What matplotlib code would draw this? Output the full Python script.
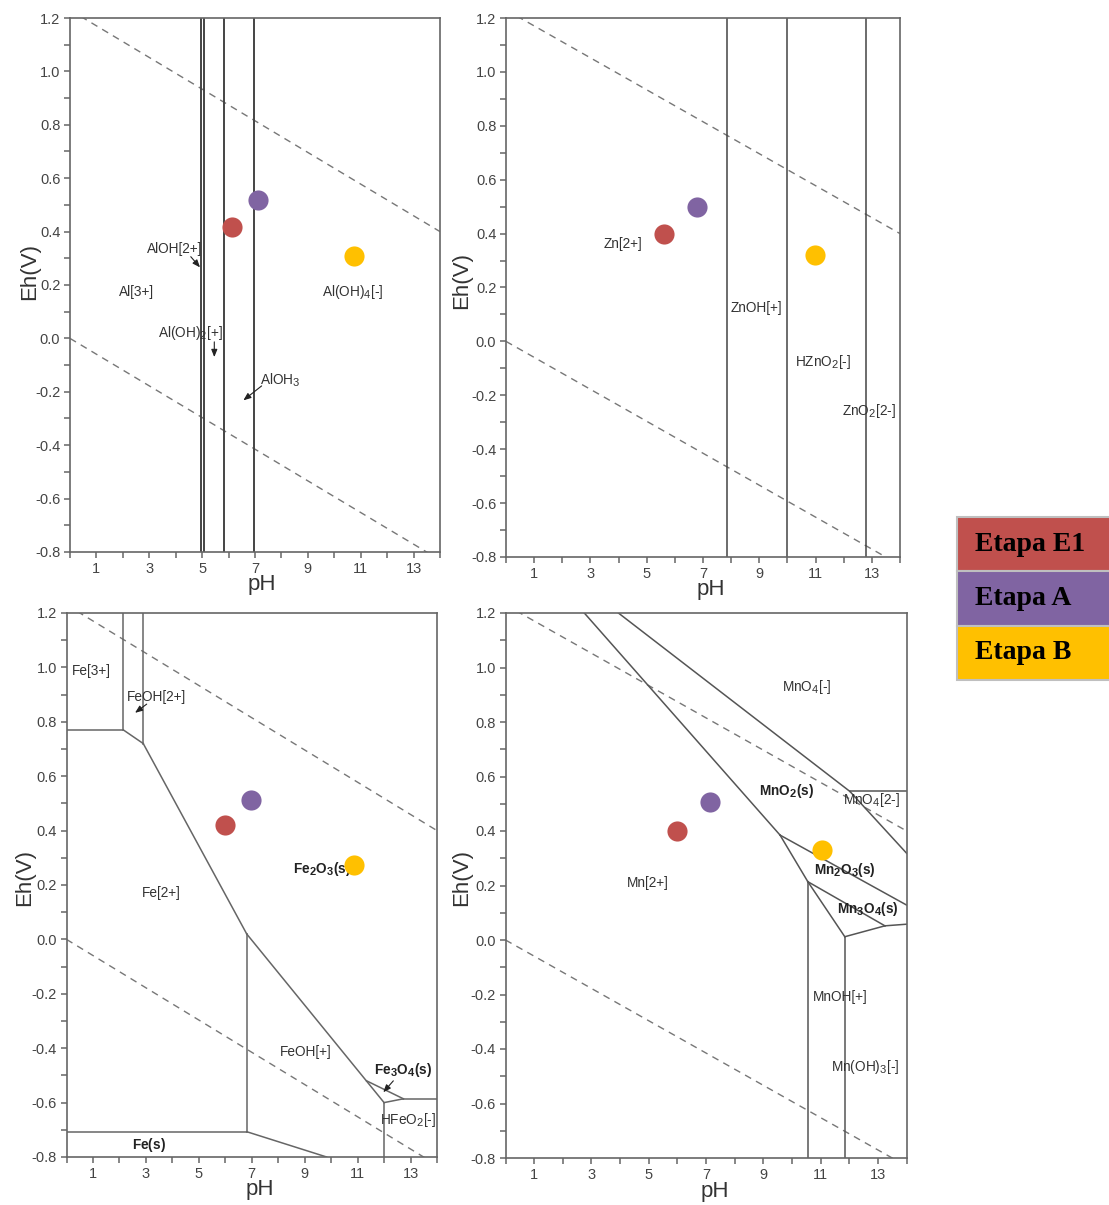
import matplotlib
matplotlib.use("Agg")
import matplotlib.pyplot as plt
import matplotlib._mathtext as mathtext_internals
from matplotlib.ticker import MultipleLocator, FixedLocator

plt.rcParams['font.family'] = ['Liberation Sans', 'DejaVu Sans']
plt.rcParams['mathtext.fontset'] = 'custom'
plt.rcParams['mathtext.rm'] = 'Liberation Sans'
plt.rcParams['mathtext.bf'] = 'Liberation Sans:bold'
plt.rcParams['mathtext.default'] = 'regular'
# subscripts in the original are only slightly smaller than the text
mathtext_internals.SHRINK_FACTOR = 0.82

# --- data -------------------------------------------------------------
stages = ['Etapa E1', 'Etapa A', 'Etapa B']
stage_colors = ['#C0504D', '#8064A2', '#FFC000']

# water stability lines (pH, Eh)
water_ph = [0, 14]
o2_eh = [1.23, 0.40]
h2_eh = [0.0, -0.83]

# Al
al_bounds = [4.95, 5.06, 5.83, 6.96]
al_ph = [6.14, 7.13, 10.73]
al_eh = [0.416, 0.52, 0.309]

# Zn
zn_bounds = [7.84, 9.97, 12.78]
zn_ph = [5.63, 6.8, 10.98]
zn_eh = [0.399, 0.50, 0.322]

# Fe  (segments: pH0, Eh0, pH1, Eh1)
fe_segs = [
    (0, 0.77, 2.15, 0.77),
    (2.15, 0.77, 2.15, 1.2),
    (2.90, 0.72, 2.90, 1.2),
    (2.15, 0.77, 2.90, 0.72),
    (2.90, 0.72, 6.81, 0.02),
    (6.81, 0.02, 12.0, -0.60),
    (6.81, 0.02, 6.81, -0.707),
    (0, -0.707, 6.81, -0.707),
    (6.81, -0.707, 9.83, -0.80),
    (11.34, -0.52, 12.73, -0.586),
    (12.0, -0.60, 12.73, -0.586),
    (12.73, -0.586, 14, -0.586),
    (12.0, -0.60, 12.0, -0.80),
]
fe_ph = [6.0, 6.98, 10.85]
fe_eh = [0.42, 0.511, 0.275]

# Mn
mn_segs = [
    (2.75, 1.2, 9.58, 0.385),
    (9.58, 0.385, 10.55, 0.214),
    (3.94, 1.2, 12.02, 0.545),
    (12.02, 0.545, 14, 0.318),
    (12.02, 0.545, 14, 0.545),
    (9.58, 0.385, 14, 0.128),
    (10.55, 0.214, 13.24, 0.052),
    (10.55, 0.214, 11.84, 0.012),
    (11.84, 0.012, 13.24, 0.052),
    (13.24, 0.052, 14, 0.058),
    (10.55, 0.214, 10.55, -0.80),
    (11.84, 0.012, 11.84, -0.80),
]
mn_ph = [5.97, 7.15, 11.05]
mn_eh = [0.40, 0.505, 0.33]

# --- figure -----------------------------------------------------------
W, H = 1109, 1205
fig = plt.figure(figsize=(W / 100, H / 100), dpi=100)


def px_axes(left, top, right, bottom):
    return fig.add_axes([left / W, 1 - bottom / H, (right - left) / W, (bottom - top) / H])


def style(ax):
    ax.set_xlim(0, 14)
    ax.set_ylim(-0.8, 1.2)
    ax.xaxis.set_major_locator(FixedLocator([1, 3, 5, 7, 9, 11, 13]))
    ax.xaxis.set_minor_locator(MultipleLocator(1))
    ax.yaxis.set_major_locator(MultipleLocator(0.2))
    ax.yaxis.set_minor_locator(MultipleLocator(0.1))
    ax.yaxis.set_major_formatter(plt.FuncFormatter(lambda v, p: '%.1f' % v))
    ax.tick_params(which='both', direction='out', length=4, width=1.1,
                   color='#666666', labelcolor='#444444', labelsize=10.5, pad=3)
    for s in ax.spines.values():
        s.set_color('#666666')
        s.set_linewidth(1.2)
    ax.plot(water_ph, o2_eh, ls=(0, (5, 4)), color='#777777', lw=1.0)
    ax.plot(water_ph, h2_eh, ls=(0, (5, 4)), color='#777777', lw=1.0)


def dots(ax, ph, eh):
    for x, y, c in zip(ph, eh, stage_colors):
        ax.plot(x, y, 'o', ms=14.5, color=c, mec='none', zorder=5)


def arrow(ax, start, end):
    ax.annotate('', xy=end, xytext=start,
                arrowprops=dict(arrowstyle='-|>,head_length=0.45,head_width=0.18',
                                color='#222222', lw=0.8, shrinkA=0, shrinkB=0))


lab = dict(fontsize=9.8, color='#333333', ha='center', va='center')
labb = dict(fontsize=9.8, color='#222222', ha='center', va='center')

# Al
ax1 = px_axes(70, 18, 440, 552)
style(ax1)
for x in al_bounds:
    ax1.axvline(x, color='#444444', lw=1.4)
ax1.text(3.97, 0.334, 'AlOH[2+]', **lab)
arrow(ax1, (4.57, 0.306), (4.92, 0.266))
ax1.text(2.52, 0.173, 'Al[3+]', **lab)
ax1.text(4.54, 0.02, r'Al(OH)$_2$[+]', **lab)
arrow(ax1, (5.46, -0.013), (5.46, -0.07))
ax1.text(7.95, -0.156, r'AlOH$_3$', **lab)
arrow(ax1, (7.25, -0.178), (6.56, -0.232))
ax1.text(10.7, 0.173, r'Al(OH)$_4$[-]', **lab)
dots(ax1, al_ph, al_eh)

# Zn
ax2 = px_axes(506, 18, 900, 557)
style(ax2)
for x in zn_bounds:
    ax2.axvline(x, color='#444444', lw=1.1)
ax2.text(4.15, 0.363, 'Zn[2+]', **lab)
ax2.text(8.91, 0.124, 'ZnOH[+]', **lab)
ax2.text(11.28, -0.075, r'HZnO$_2$[-]', **lab)
ax2.text(12.88, -0.259, r'ZnO$_2$[2-]', **lab)
dots(ax2, zn_ph, zn_eh)

# Fe
ax3 = px_axes(66.5, 613, 437, 1157)
style(ax3)
for x0, y0, x1, y1 in fe_segs:
    ax3.plot([x0, x1], [y0, y1], color='#666666', lw=1.1)
ax3.text(0.95, 0.987, 'Fe[3+]', **lab)
ax3.text(3.41, 0.89, 'FeOH[2+]', **lab)
arrow(ax3, (3.03, 0.865), (2.59, 0.833))
ax3.text(3.6, 0.172, 'Fe[2+]', **lab)
ax3.text(8.55, 0.258, r'$\mathbf{Fe_2O_3(s)}$', **dict(labb, ha='left'))
ax3.text(9.05, -0.413, 'FeOH[+]', **lab)
ax3.text(12.73, -0.48, r'$\mathbf{Fe_3O_4(s)}$', **labb)
arrow(ax3, (12.35, -0.52), (11.97, -0.562))
ax3.text(12.92, -0.665, r'HFeO$_2$[-]', **lab)
ax3.text(3.12, -0.757, r'$\mathbf{Fe(s)}$', **labb)
dots(ax3, fe_ph, fe_eh)

# Mn
ax4 = px_axes(505.5, 613, 906.7, 1158)
style(ax4)
for x0, y0, x1, y1 in mn_segs:
    ax4.plot([x0, x1], [y0, y1], color='#555555', lw=1.1)
ax4.text(10.51, 0.93, r'MnO$_4$[-]', **lab)
ax4.text(9.81, 0.547, r'$\mathbf{MnO_2(s)}$', **labb)
ax4.text(12.78, 0.512, r'MnO$_4$[2-]', **lab)
ax4.text(11.85, 0.257, r'$\mathbf{Mn_2O_3(s)}$', **labb)
ax4.text(12.66, 0.115, r'$\mathbf{Mn_3O_4(s)}$', **labb)
ax4.text(4.98, 0.21, 'Mn[2+]', **lab)
ax4.text(11.67, -0.21, 'MnOH[+]', **lab)
ax4.text(12.54, -0.467, r'Mn(OH)$_3$[-]', **lab)
dots(ax4, mn_ph, mn_eh)

# axis titles
for x, y in [(30, 272), (462, 280), (25, 878), (462, 878)]:
    fig.text(x / W, 1 - y / H, 'Eh(V)', rotation=90, ha='center', va='center',
             fontsize=16, color='#333333')
for x, y in [(262, 584), (711, 589), (260, 1189), (715, 1191)]:
    fig.text(x / W, 1 - y / H, 'pH', ha='center', va='center',
             fontsize=16, color='#333333')

# legend boxes
axl = fig.add_axes([957 / W, 1 - 680 / H, 200 / W, 163 / H])
axl.set_xlim(0, 200)
axl.set_ylim(0, 3)
axl.axis('off')
ypos = [2.5, 1.5, 0.5]
axl.barh(ypos, [200] * 3, height=1, left=0, color=stage_colors,
         edgecolor='#bfbfbf', lw=1.5, clip_on=False)
for y, s in zip(ypos, stages):
    axl.text(18, y, s, ha='left', va='center', fontsize=20, fontweight='bold',
             family='Liberation Serif', color='black')

fig.savefig('out.png', dpi=100)
